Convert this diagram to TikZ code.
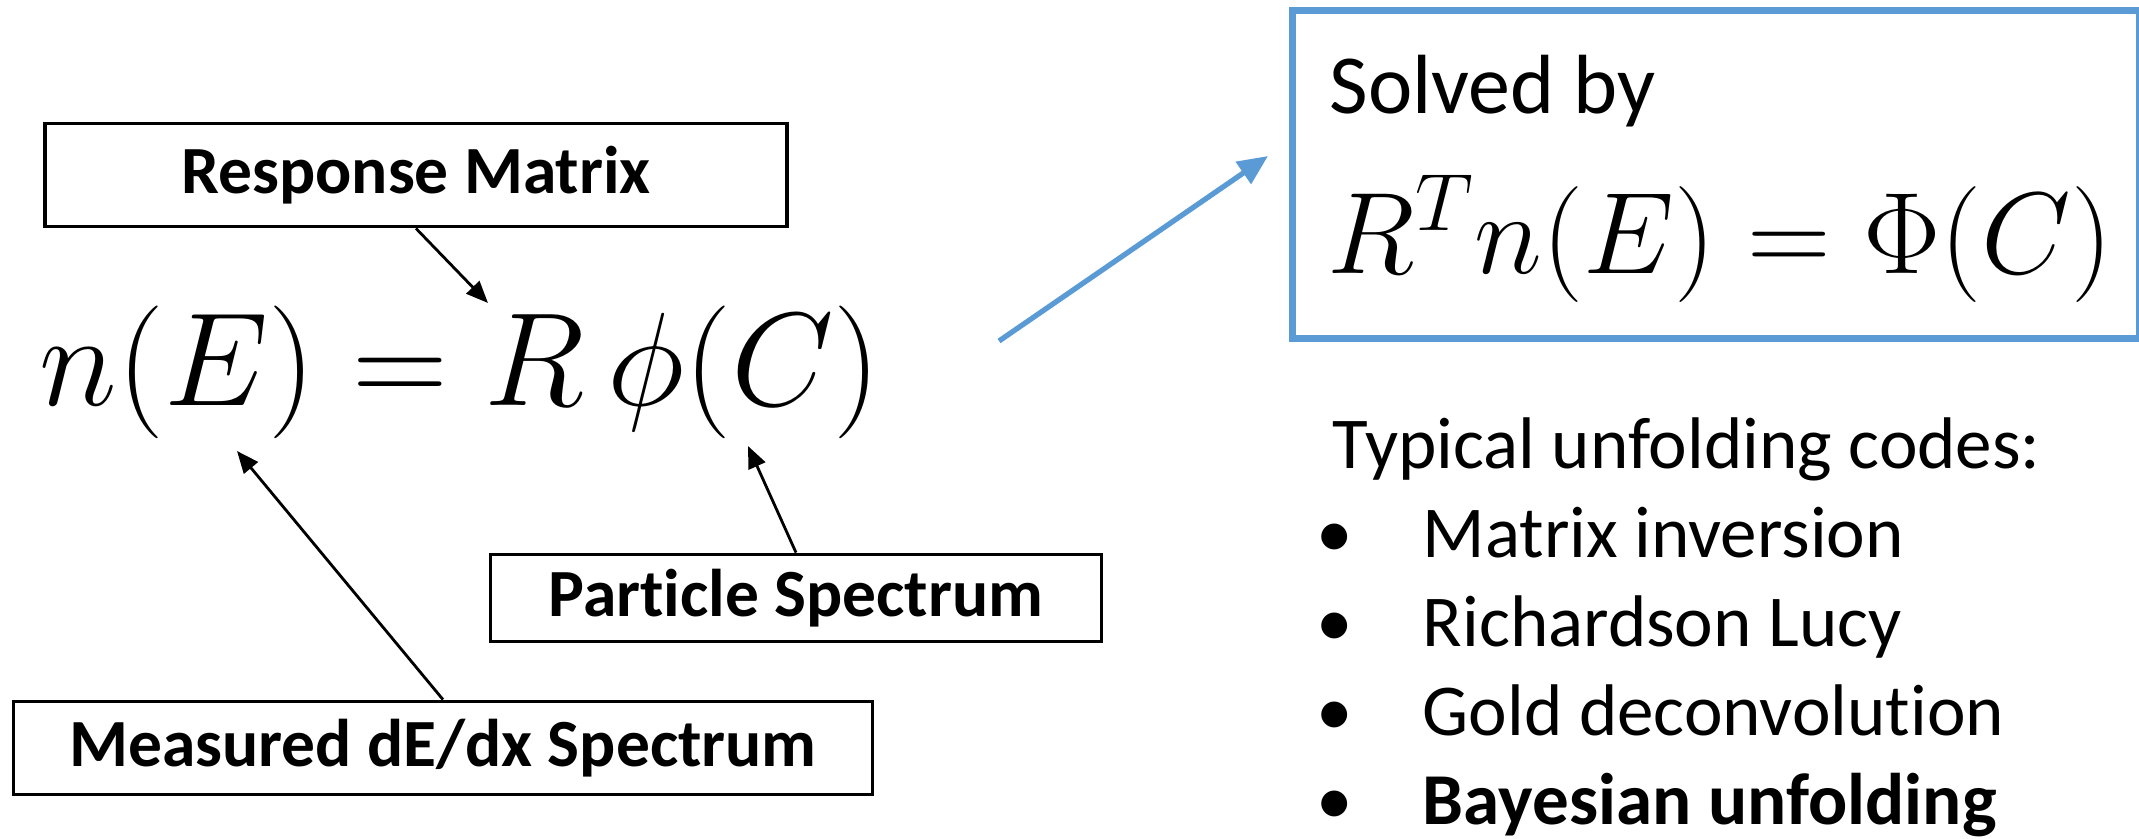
\RequirePackage{fix-cm}
\documentclass[tikz,border=0pt]{standalone}
\usepackage{amsmath}
\usepackage{fontspec}
\setmainfont{Carlito}[Ligatures=NoCommon]
\usepackage{tikz}
\usetikzlibrary{arrows.meta,positioning}
\definecolor{officeblue}{HTML}{5B9BD5}
\tikzset{
  labelbox/.style={draw,line width=1.1pt,inner sep=0pt,font=\fontsize{19.2}{23}\selectfont\bfseries},
  pointer/.style={-{Triangle[length=2.2mm,width=1.8mm]},line width=0.8pt},
  codetext/.style={anchor=base west,inner sep=0pt,font=\fontsize{20.8}{25}\selectfont},
}

\begin{document}
\begin{tikzpicture}[x=0.1mm,y=-0.1mm]
    \useasboundingbox (0,0) rectangle (2139,838);
    % n(E) = R phi(C) and what its parts are
    \node[anchor=base west,inner sep=0pt,font=\fontsize{37.8}{46}\selectfont] (eqn) at (39,405) {$n(E) = R\,\phi(C)$};
    \coordinate (atR) at (488,303);
    \coordinate (atE) at (237,451);
    \coordinate (atC) at (748,446);
    \node[labelbox,minimum width=7.42cm,minimum height=1.03cm] (resp) at (416,175) {Response Matrix};
    \node[labelbox,minimum width=6.11cm,minimum height=0.87cm] (part) at (796,598) {Particle Spectrum};
    \node[labelbox,minimum width=8.59cm,minimum height=0.93cm] (meas) at (443,748) {Measured dE/dx Spectrum};
    \draw[pointer] (resp.south) -- (atR);
    \draw[pointer] (part.north) -- (atC);
    \draw[pointer] (meas.north) -- (atE);
    % transposed system
    \node[draw=officeblue,line width=2pt,minimum width=8.47cm,minimum height=3.28cm,inner sep=0pt] (solved) at (1716,174) {};
    \node[codetext,font=\fontsize{23.9}{28}\selectfont] (solvedby) at (1329,113) {Solved by};
    \node[codetext,font=\fontsize{33}{40}\selectfont] (transp) at (1327,273) {$R^{T} n(E) = \Phi(C)$};
    \coordinate (blueTail) at (999,341);
    \coordinate (blueTip) at (1268,156);
    \draw[officeblue,line width=1.5pt,-{Triangle[length=3mm,width=2.6mm]}] (blueTail) -- (blueTip);
    % list of codes
    \node[codetext] (codes) at (1332,468) {Typical unfolding codes:};
    \foreach \t [count=\i] in {Matrix inversion,Richardson Lucy,Gold deconvolution,\textbf{Bayesian unfolding}} {
      \node[codetext,anchor=base] (dot\i) at (1335,{468+89*\i}) {\textbullet};
      \node[codetext] (code\i) at (1422,{468+89*\i}) {\t};
    }
\end{tikzpicture}
\end{document}
